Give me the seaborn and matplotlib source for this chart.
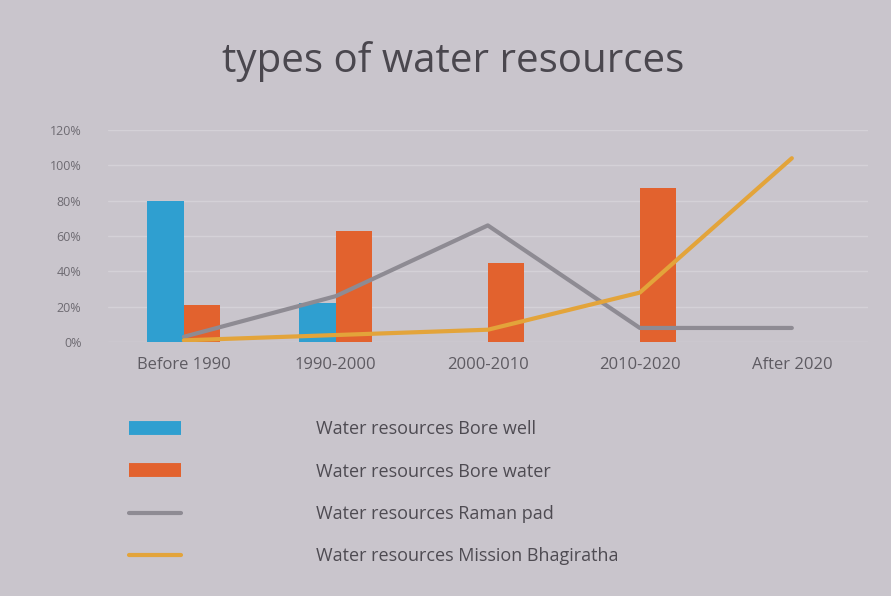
import numpy as np
import pandas as pd
import matplotlib
matplotlib.use("Agg")
import matplotlib.pyplot as plt
import seaborn as sns
from matplotlib.lines import Line2D
from matplotlib.ticker import PercentFormatter

# data (fractions)
periods = ["Before 1990", "1990-2000", "2000-2010", "2010-2020", "After 2020"]
bore_well = [0.80, 0.22, 0.0, 0.0, 0.0]
bore_water = [0.21, 0.63, 0.45, 0.87, 0.0]
raman_pad = [0.03, 0.26, 0.66, 0.08, 0.08]
mission_bhagiratha = [0.01, 0.04, 0.07, 0.28, 1.04]

labels = ["Water resources Bore well", "Water resources Bore water",
          "Water resources Raman pad", "Water resources Mission Bhagiratha"]
colors = ["#2f9fd0", "#e2622e", "#8e8b93", "#e3a43a"]
bg = "#c9c5cc"

bars = pd.DataFrame({
    "period": periods * 2,
    "value": bore_well + bore_water,
    "series": [labels[0]] * len(periods) + [labels[1]] * len(periods),
})

sns.set_style("white")
plt.rcParams["font.family"] = ["Open Sans", "DejaVu Sans"]

fig = plt.figure(figsize=(8.91, 5.96), dpi=100, facecolor=bg)
ax = fig.add_axes([0.121, 0.426, 0.853, 0.356])
ax.set_facecolor(bg)

sns.barplot(data=bars, x="period", y="value", hue="series", order=periods,
            palette=colors[:2], width=0.48, ax=ax, legend=False, saturation=1,
            linewidth=0)

xpos = np.arange(len(periods))
sns.lineplot(x=xpos, y=raman_pad, color=colors[2], lw=3, ax=ax, legend=False)
sns.lineplot(x=xpos, y=mission_bhagiratha, color=colors[3], lw=3, ax=ax, legend=False)

ax.set_ylim(0, 1.2)
ax.set_xlim(-0.5, len(periods) - 0.5)
ax.set_yticks(np.arange(0, 1.21, 0.2))
ax.yaxis.set_major_formatter(PercentFormatter(1.0, decimals=0))
ax.grid(axis="y", color="#d4d1d7", lw=1)
ax.set_axisbelow(True)
for s in ax.spines.values():
    s.set_visible(False)
ax.set_xlabel("")
ax.set_ylabel("")
ax.tick_params(axis="y", labelsize=9, labelcolor="#6e6b72", length=0, pad=19)
ax.tick_params(axis="x", labelsize=12, labelcolor="#5e5b62", length=0, pad=11)

fig.text(0.508, 0.896, "types of water resources", ha="center", va="center",
         fontsize=29, color="#4a474e")

handles = [
    Line2D([0], [0], color=colors[0], lw=10, solid_capstyle="butt"),
    Line2D([0], [0], color=colors[1], lw=10, solid_capstyle="butt"),
    Line2D([0], [0], color=colors[2], lw=3),
    Line2D([0], [0], color=colors[3], lw=3),
]
fig.legend(handles, labels, loc="upper left", bbox_to_anchor=(0.126, 0.322),
           frameon=False, fontsize=13, handlelength=2.9, handletextpad=7.5,
           labelspacing=1.35, labelcolor="#4e4b52")

fig.savefig("out.png", dpi=100, facecolor=bg)
